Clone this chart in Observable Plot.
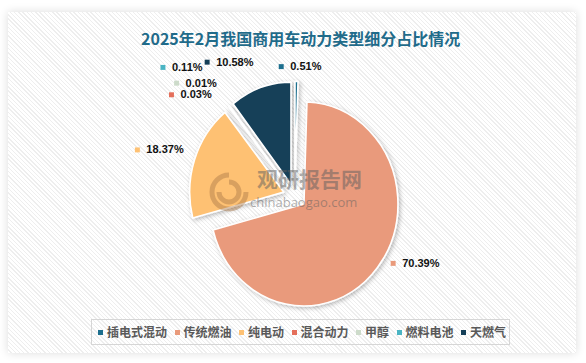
<!DOCTYPE html>
<html><head><meta charset="utf-8">
<script src="https://cdn.jsdelivr.net/npm/d3@7"></script>
<script src="https://cdn.jsdelivr.net/npm/@observablehq/plot@0.6"></script>
<style>
html,body{margin:0;padding:0;background:#fff;}
#wrap{position:relative;width:586px;height:363px;overflow:hidden;font-family:"Noto Sans CJK SC",sans-serif;}
#card{position:absolute;left:8px;top:12px;width:568px;height:341px;background:repeating-linear-gradient(45deg,#ffffff 0px,#ffffff 2px,#eeeeee 2px,#eeeeee 3px);box-shadow:0 0 9px rgba(0,0,0,0.14);}
#title{position:absolute;left:141px;top:27px;white-space:nowrap;font-family:"Noto Sans CJK SC";font-weight:700;font-size:16px;line-height:22px;color:#1f6b8a;}
#chart{position:absolute;left:0;top:0;}
#legend{position:absolute;left:91px;top:319px;width:419px;height:26px;box-sizing:border-box;border:1px solid #d6d6d6;padding-left:6px;display:flex;align-items:center;overflow:hidden;}
#legend .lg-swatches{min-height:0;margin:0;display:flex;flex-wrap:nowrap;align-items:center;font-family:"Noto Sans CJK SC";font-size:12px;white-space:nowrap;}
#legend .lg-swatch{margin-right:7.5px;font-family:"Noto Sans CJK SC";font-size:12px;font-weight:700;color:#595959;display:inline-flex;align-items:center;line-height:16px;white-space:nowrap;flex-shrink:0;}
#legend .lg-swatch > svg{margin-right:4px;flex-shrink:0;}
#wm{position:absolute;left:205px;top:166px;width:170px;height:46px;pointer-events:none;}
#wm .cn{position:absolute;left:52px;top:1px;font-family:"Noto Sans CJK SC";font-weight:700;font-size:21px;line-height:22px;color:rgba(95,95,95,0.5);white-space:nowrap;}
#wm .en{position:absolute;left:45px;top:29px;font-family:"Open Sans";font-size:13px;line-height:15px;color:rgba(95,95,95,0.5);white-space:nowrap;}
</style>
</head><body>
<div id="wrap">
  <div id="card"></div>
  <div id="chart"></div>
  <div id="title">2025年2月我国商用车动力类型细分占比情况</div>
  <div id="wm">
    <svg width="48" height="42" style="position:absolute;left:0;top:4px">
      <g fill="none" stroke="rgba(170,120,70,0.45)" stroke-width="5">
        <path d="M24,5 A17,17 0 1,0 41,22"/>
        <path d="M24,12 A10,10 0 1,1 14,22"/>
      </g>
    </svg>
    <div class="cn">观研报告网</div>
    <div class="en">chinabaogao.com</div>
  </div>
  <div id="legend"></div>
</div>
<script>
// ---- data ----
const categories = ["插电式混动", "传统燃油", "纯电动", "混合动力", "甲醇", "燃料电池", "天燃气"];
const shares = [0.51, 70.39, 18.37, 0.03, 0.01, 0.11, 10.58];
const colors = ["#1d6f8e", "#e99a7b", "#fec173", "#e46f5b", "#cddbca", "#4ab4c3", "#143f58"];
const labelTexts = ["0.51%", "70.39%", "18.37%", "0.03%", "0.01%", "0.11%", "10.58%"];

// ---- layout ----
const W = 586, H = 363;
const cx = 294.8, cy = 196.1, R = 94, yStretch = 1.085, explode = 11.7, labelRadius = 120;
const labelNudge = {
  "插电式混动": [-16, -10],
  "传统燃油": [4, -8],
  "纯电动": [-44, -9],
  "混合动力": [-49, -8],
  "甲醇": [-44, -19.5],
  "燃料电池": [-58, -35],
  "天燃气": [-49, -21]
};

const table = categories.map((name, i) => ({name, share: shares[i], label: labelTexts[i]}));
const arcs = d3.pie().sort(null).value(d => d.share).startAngle(0).endAngle(2 * Math.PI)(table);
arcs.forEach(a => {
  a.mid = (a.startAngle + a.endAngle) / 2;
  const [nx, ny] = labelNudge[a.data.name];
  a.lx = cx + labelRadius * Math.sin(a.mid) + nx;
  a.ly = cy - labelRadius * Math.cos(a.mid) + ny;
});

const arcGen = d3.arc().innerRadius(0).outerRadius(R);

function pieMark(index, scales) {
  const ns = "http://www.w3.org/2000/svg";
  const g = d3.select(document.createElementNS(ns, "g"));
  const f = g.append("defs").append("filter").attr("id", "shadow")
    .attr("x", "-30%").attr("y", "-30%").attr("width", "160%").attr("height", "160%");
  f.append("feDropShadow").attr("dx", 1.5).attr("dy", 1.5).attr("stdDeviation", 2.2)
    .attr("flood-color", "#000").attr("flood-opacity", 0.28);
  const color = (scales && scales.color) || (n => colors[categories.indexOf(n)]);
  g.append("g").attr("filter", "url(#shadow)")
    .append("g").attr("transform", `translate(${cx},${cy}) scale(1,${yStretch})`)
    .selectAll("path").data(arcs).join("path")
    .attr("transform", a => `translate(${explode * Math.sin(a.mid)},${-explode * Math.cos(a.mid)})`)
    .attr("d", arcGen)
    .attr("fill", a => color(a.data.name))
    .attr("stroke", "#fff")
    .attr("stroke-width", 1.6)
    .attr("vector-effect", "non-scaling-stroke")
    .attr("stroke-linejoin", "round");
  return g.node();
}

const chart = Plot.plot({
  width: W,
  height: H,
  margin: 0,
  x: {type: "identity", axis: null},
  y: {type: "identity", axis: null},
  color: {domain: categories, range: colors},
  style: {background: "transparent", overflow: "visible"},
  marks: [
    pieMark,
    Plot.dot(arcs, {x: "lx", y: "ly", fill: a => a.data.name, symbol: "square", r: 2.8, stroke: null}),
    Plot.text(arcs, {x: "lx", y: "ly", text: a => a.data.label, dx: 9, textAnchor: "start",
      fontFamily: "Liberation Sans, Arial, sans-serif", fontWeight: "bold", fontSize: 11, fill: "#111"})
  ]
});
document.getElementById("chart").appendChild(chart);

const legend = Plot.legend({
  color: {domain: categories, range: colors},
  legend: "swatches",
  swatchSize: 5,
  className: "lg"
});
document.getElementById("legend").appendChild(legend);
</script>
</body></html>
